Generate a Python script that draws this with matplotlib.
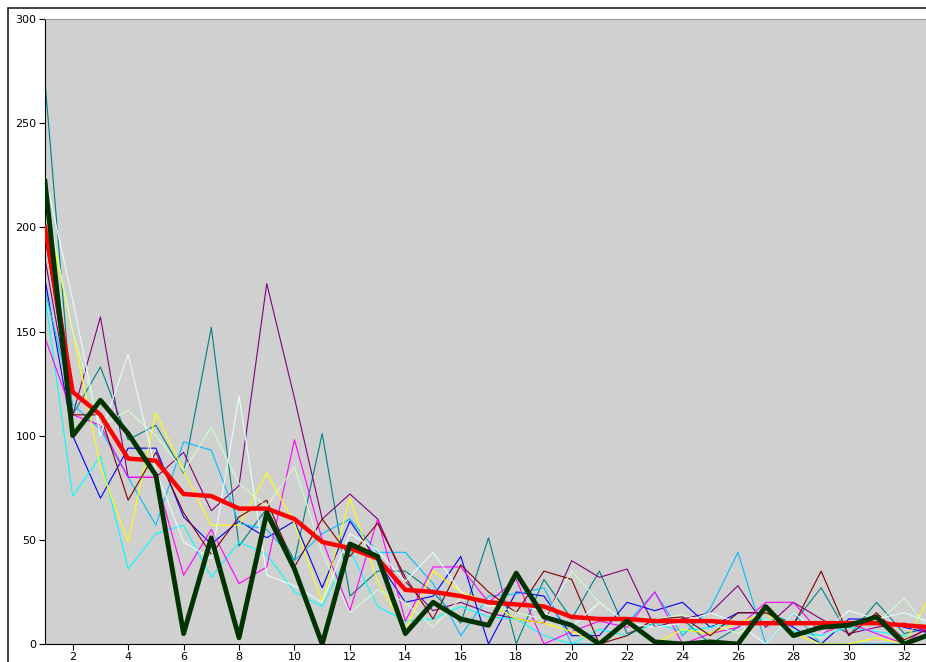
import matplotlib
matplotlib.use('Agg')
import matplotlib.pyplot as plt
from matplotlib.patches import Rectangle

x = list(range(1, 34))

# thin runs
teal = [270, 110, 133, 98, 105, 82, 152, 47, 65, 40, 101, 23, 35, 35, 25, 10, 51, 0, 31, 12,
        35, 5, 10, 12, 0, 8, 15, 10, 27, 4, 20, 5, 8]
purple = [185, 110, 157, 80, 80, 92, 64, 76, 173, 118, 60, 72, 60, 30, 16, 20, 15, 12, 10, 40,
          32, 36, 8, 12, 15, 28, 8, 20, 12, 5, 8, 10, 5]
blue = [175, 100, 70, 94, 94, 61, 48, 59, 51, 59, 27, 59, 40, 20, 23, 42, 0, 25, 23, 4,
        4, 20, 16, 20, 8, 15, 15, 8, 0, 12, 12, 8, 5]
cyan = [167, 71, 90, 36, 53, 57, 32, 49, 43, 25, 18, 45, 18, 11, 12, 18, 13, 12, 4, 0,
        7, 4, 10, 6, 8, 10, 12, 6, 4, 8, 6, 4, 2]
skyblue = [170, 115, 103, 80, 57, 97, 93, 58, 55, 40, 53, 60, 44, 44, 29, 4, 23, 24, 27, 0,
           0, 10, 25, 4, 17, 44, 0, 15, 0, 0, 0, 0, 5]
magenta = [147, 110, 105, 80, 80, 33, 55, 29, 37, 98, 50, 16, 60, 11, 37, 37, 20, 31, 0, 6,
           11, 8, 25, 0, 5, 8, 20, 20, 5, 10, 5, 0, 10]
yellow = [210, 150, 85, 49, 111, 83, 57, 57, 82, 58, 20, 70, 30, 7, 35, 25, 20, 12, 10, 6,
          0, 10, 0, 7, 5, 10, 15, 5, 0, 0, 3, 0, 25]
maroon = [196, 110, 110, 69, 92, 63, 43, 61, 69, 37, 60, 42, 58, 32, 12, 38, 25, 15, 35, 31,
          0, 4, 12, 13, 4, 15, 15, 9, 35, 4, 15, 2, 8]
lightcyan = [225, 165, 100, 139, 83, 49, 41, 119, 33, 28, 20, 53, 45, 30, 44, 25, 18, 20, 15, 8,
             20, 10, 8, 10, 15, 10, 0, 15, 5, 16, 12, 15, 10]
palegreen = [215, 150, 105, 112, 100, 83, 104, 77, 66, 85, 44, 15, 26, 20, 8, 22, 20, 15, 12, 35,
             20, 10, 12, 14, 10, 5, 12, 5, 3, 10, 10, 22, 5]

# thick runs
mean = [200, 121, 110, 89, 88, 72, 71, 65, 65, 60, 49, 46, 41, 26, 25, 23, 20, 19, 18, 13,
        12, 12, 11, 11, 11, 10, 10, 10, 10, 10, 10, 9, 8]
best = [222, 100, 117, 101, 81, 5, 51, 3, 63, 36, 0, 48, 42, 5, 20, 12, 9, 34, 13, 9,
        0, 11, 1, 0, 1, 0, 18, 4, 8, 9, 13, 0, 5]

thin = [(teal, '#008080'), (purple, '#800080'), (blue, '#0000ff'), (cyan, '#00ffff'),
        (skyblue, '#00bfff'), (magenta, '#ff00ff'), (yellow, '#ffff00'), (maroon, '#800000'),
        (lightcyan, '#e0ffff'), (palegreen, '#ccffcc')]

fig = plt.figure(figsize=(9.26, 6.62), dpi=100)
ax = fig.add_axes([45 / 926, 18 / 662, 887 / 926, 625 / 662])
ax.set_facecolor('#d0d0d0')

for vals, col in thin:
    ax.plot(x, vals, color=col, lw=0.8)
ax.plot(x, mean, color='#ff0000', lw=3.2, zorder=5)
ax.plot(x, best, color='#003300', lw=3.5, zorder=6)

ax.set_xlim(1, 33)
ax.set_ylim(0, 300)
ax.set_xticks(range(2, 34, 2))
ax.set_yticks(range(0, 301, 50))
ax.tick_params(labelsize=8, length=4, direction='out', pad=2)
ax.spines['top'].set_color('#999999')
ax.spines['right'].set_visible(False)

# outer frame
fig.patches.append(Rectangle((8 / 926, -0.1), 1.2, (662 - 8) / 662 + 0.1,
                             transform=fig.transFigure, fill=False,
                             edgecolor='#222222', lw=1.2))

fig.savefig('out.png', dpi=100)
